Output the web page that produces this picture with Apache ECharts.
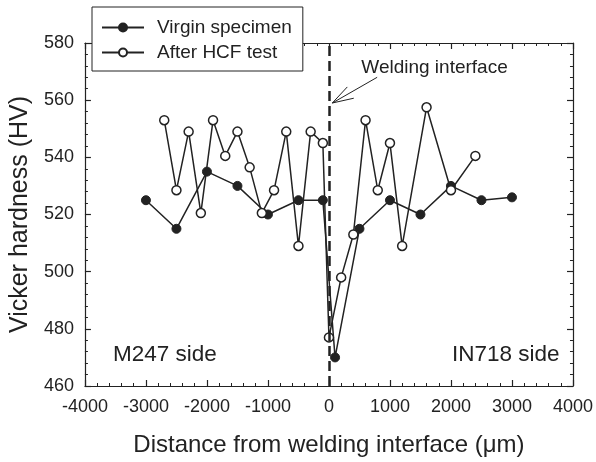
<!DOCTYPE html>
<html>
<head>
<meta charset="utf-8">
<script src="https://cdn.jsdelivr.net/npm/echarts@6/dist/echarts.min.js"></script>
<style>
html,body{margin:0;padding:0;background:#fff;}
#main{width:596px;height:462px;}
</style>
</head>
<body>
<div id="main"></div>
<script>
// Virgin specimen
var virginX = [-3000, -2500, -2000, -1500, -1000, -500, -100, 100, 500, 1000, 1500, 2000, 2500, 3000];
var virginY = [525, 515, 535, 530, 520, 525, 525, 470, 515, 525, 520, 530, 525, 526];
// After HCF test
var hcfX = [-2700, -2500, -2300, -2100, -1900, -1700, -1500, -1300, -1100, -900, -700, -500, -300, -100, 0, 200, 400, 600, 800, 1000, 1200, 1600, 2000, 2400];
var hcfY = [553, 528.5, 549, 520.5, 553, 540.5, 549, 536.5, 520.5, 528.5, 549, 509, 549, 545, 477, 498, 513, 553, 528.5, 545, 509, 557.5, 528.5, 540.5];

var xTicks = ['-4000', '-3000', '-2000', '-1000', '0', '1000', '2000', '3000', '4000'];
var yTicks = ['460', '480', '500', '520', '540', '560', '580'];

var ink = '#222';
var font = 'Liberation Sans, Arial, sans-serif';

function pairs(xs, ys) {
    var out = [];
    for (var i = 0; i < xs.length; i++) out.push([xs[i], ys[i]]);
    return out;
}

var myChart = echarts.init(document.getElementById('main'));

var axisCommon = {
    type: 'value',
    axisLine: {show: true, onZero: false, lineStyle: {color: ink, width: 1.2}},
    axisTick: {show: true, inside: true, length: 6, lineStyle: {color: ink, width: 1.2}},
    minorTick: {show: true, splitNumber: 5, length: 3, lineStyle: {color: ink, width: 1}},
    splitLine: {show: false}
};

var option = {
    animation: false,
    backgroundColor: '#fff',
    grid: {left: 84, right: 21, top: 43, bottom: 76},
    legend: {
        left: 92,
        top: 7,
        orient: 'vertical',
        backgroundColor: '#fff',
        borderColor: ink,
        borderWidth: 1,
        borderRadius: 0,
        padding: [11, 11, 9, 9],
        itemGap: 6,
        itemWidth: 42,
        itemHeight: 10,
        z: 10,
        textStyle: {fontSize: 19, lineHeight: 19, color: ink, fontFamily: font, padding: [0, 0, 0, 8]},
        data: ['Virgin specimen', 'After HCF test']
    },
    xAxis: [
        echarts.util.merge({
            min: -4000, max: 4000, interval: 1000,
            position: 'bottom',
            name: 'Distance from welding interface (\u03bcm)',
            nameLocation: 'middle',
            nameGap: 47,
            nameTextStyle: {fontSize: 24, color: ink, fontFamily: font},
            axisLabel: {
                fontSize: 18, color: ink, fontFamily: font, margin: 12,
                formatter: function (v) { return xTicks[xTicks.indexOf(String(v))] || String(v); }
            }
        }, axisCommon, true),
        echarts.util.merge({
            min: -4000, max: 4000, interval: 1000,
            position: 'top',
            axisLabel: {show: false}
        }, axisCommon, true)
    ],
    yAxis: [
        echarts.util.merge({
            min: 460, max: 580, interval: 20,
            position: 'left',
            name: 'Vicker hardness (HV)',
            nameLocation: 'middle',
            nameGap: 50,
            nameTextStyle: {fontSize: 25, color: ink, fontFamily: font},
            axisLabel: {
                fontSize: 18, color: ink, fontFamily: font, margin: 11,
                formatter: function (v) { return yTicks[yTicks.indexOf(String(v))] || String(v); }
            }
        }, axisCommon, true),
        echarts.util.merge({
            min: 460, max: 580, interval: 20,
            position: 'right',
            axisLabel: {show: false}
        }, axisCommon, true)
    ],
    series: [
        {
            name: 'Virgin specimen',
            type: 'line',
            data: pairs(virginX, virginY),
            symbol: 'circle',
            symbolSize: 9,
            lineStyle: {color: ink, width: 1.5},
            itemStyle: {color: ink, borderColor: ink, borderWidth: 1},
            z: 3,
            markLine: {
                silent: true,
                symbol: 'none',
                label: {show: false},
                lineStyle: {color: ink, type: [10, 5], width: 2.5},
                data: [{xAxis: 0}]
            }
        },
        {
            name: 'After HCF test',
            type: 'line',
            data: pairs(hcfX, hcfY),
            symbol: 'circle',
            symbolSize: 9,
            lineStyle: {color: ink, width: 1.5},
            itemStyle: {color: '#fff', borderColor: ink, borderWidth: 1.5},
            z: 4
        }
    ]
};

myChart.setOption(option);

// annotations placed in data space
function px(x, y) { return myChart.convertToPixel({xAxisIndex: 0, yAxisIndex: 0}, [x, y]); }
var tip = px(55, 559);
var tail = px(790, 568);
var ang = Math.atan2(tail[1] - tip[1], tail[0] - tip[0]);
var hl = 22, spread = 0.3;
var h1 = [tip[0] + hl * Math.cos(ang - spread), tip[1] + hl * Math.sin(ang - spread)];
var h2 = [tip[0] + hl * Math.cos(ang + spread), tip[1] + hl * Math.sin(ang + spread)];
var wt = px(530, 571.5);
var m247 = px(-3540, 470.8);
var in718 = px(3780, 470.8);

myChart.setOption({
    graphic: [
        {type: 'line', shape: {x1: tail[0], y1: tail[1], x2: tip[0], y2: tip[1]}, style: {stroke: ink, lineWidth: 1}},
        {type: 'polyline', shape: {points: [h1, tip, h2]}, style: {stroke: ink, lineWidth: 1, fill: null}},
        {type: 'text', x: wt[0], y: wt[1], style: {text: 'Welding interface', fill: ink, font: '19px ' + font, textAlign: 'left', textVerticalAlign: 'middle'}},
        {type: 'text', x: m247[0], y: m247[1], style: {text: 'M247 side', fill: ink, font: '22.5px ' + font, textAlign: 'left', textVerticalAlign: 'middle'}},
        {type: 'text', x: in718[0], y: in718[1], style: {text: 'IN718 side', fill: ink, font: '22.5px ' + font, textAlign: 'right', textVerticalAlign: 'middle'}}
    ]
});
</script>
</body>
</html>
